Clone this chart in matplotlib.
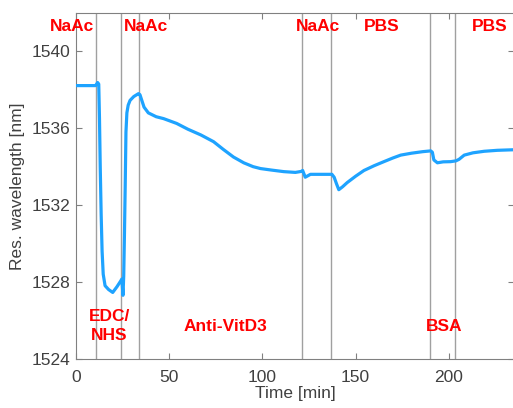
import numpy as np
import matplotlib
matplotlib.use("Agg")
import matplotlib.pyplot as plt

plt.rcParams['font.family'] = ['Liberation Sans', 'DejaVu Sans']

# Sensorgram: time [min], resonance wavelength [nm]
time_min = [0, 5, 10.5, 11.6, 12.2, 12.6, 13.0, 13.5, 14.0, 14.6, 15.6, 17.5, 19.7,
            22.0, 24.0, 24.6, 25.2, 25.6, 26.0, 26.4, 26.8, 27.3, 28.0, 29.0, 31.0,
            33.5, 34.3, 36.5, 38.8, 43.0, 47.0, 54.0, 60.0, 67.0, 73.8, 79.0, 84.5,
            90.0, 95.0, 99.0, 105.0, 111.5, 117.7, 120.8, 121.6, 123.0, 125.8, 131.0,
            137.3, 138.5, 139.8, 141.0, 143.0, 145.5, 150.0, 154.5, 160.0, 165.2,
            170.0, 174.2, 180.0, 186.0, 190.3, 191.2, 192.0, 193.9, 197.0, 201.0,
            203.8, 205.5, 208.3, 213.0, 219.0, 226.0, 235.0]
wavelength_nm = [1538.22, 1538.22, 1538.22, 1538.38, 1538.3, 1536.5, 1534.0, 1531.5,
                 1529.6, 1528.4, 1527.8, 1527.6, 1527.45, 1527.75, 1528.05, 1528.15,
                 1527.3, 1528.3, 1530.5, 1533.0, 1535.8, 1536.8, 1537.2, 1537.45,
                 1537.65, 1537.8, 1537.75, 1537.1, 1536.8, 1536.6, 1536.5, 1536.25,
                 1535.95, 1535.65, 1535.3, 1534.9, 1534.5, 1534.2, 1534.0, 1533.9,
                 1533.82, 1533.74, 1533.7, 1533.75, 1533.8, 1533.45, 1533.6, 1533.6,
                 1533.6, 1533.45, 1533.1, 1532.8, 1532.95, 1533.17, 1533.5, 1533.8,
                 1534.05, 1534.26, 1534.45, 1534.6, 1534.7, 1534.78, 1534.82, 1534.75,
                 1534.35, 1534.2, 1534.25, 1534.26, 1534.3, 1534.38, 1534.6, 1534.72,
                 1534.8, 1534.85, 1534.88]

# Injection switch times [min]
switch_times = [10.7, 24.4, 34.0, 121.1, 136.7, 190.1, 203.5]

# Solution labels (text, x [min])
top_labels = [("NaAc", -2.4), ("NaAc", 37.8), ("NaAc", 129.8), ("PBS", 163.9), ("PBS", 221.8)]
bottom_labels = [("EDC/\nNHS", 17.8), ("Anti-VitD3", 80.0), ("BSA", 197.7)]

fig = plt.figure(figsize=(5.13, 4.08), dpi=100)
ax = fig.add_axes([76 / 513, 1 - 358.7 / 408, 438 / 513, (358.7 - 13) / 408])

for t in switch_times:
    ax.axvline(t, color='#a0a0a0', lw=1.0, zorder=1)

ax.plot(time_min, wavelength_nm, color='#1ea3ff', lw=2.3, zorder=3)

ax.set_xlim(0, 235)
ax.set_ylim(1524, 1542)
ax.set_xticks([0, 50, 100, 150, 200])
ax.set_yticks([1524, 1528, 1532, 1536, 1540])

grey = '#404040'
ax.tick_params(direction='in', length=4, width=0.8, color='#808080',
               top=True, right=True, labelsize=12.5, labelcolor=grey)
ax.tick_params(axis='x', pad=8)
ax.tick_params(axis='y', pad=4)
for sp in ax.spines.values():
    sp.set_color('#808080')
    sp.set_linewidth(0.8)

ax.set_xlabel('Time [min]', fontsize=12.5, color=grey, labelpad=1)
ax.set_ylabel('Res. wavelength [nm]', fontsize=12.5, color=grey, labelpad=5)

for txt, x in top_labels:
    ax.text(x, 1541.3, txt, color='red', fontsize=12.5, fontweight='bold',
            ha='center', va='center', clip_on=False, zorder=4)
for txt, x in bottom_labels:
    ax.text(x, 1525.7, txt, color='red', fontsize=12.5, fontweight='bold',
            ha='center', va='center', linespacing=1.3, zorder=4)

fig.savefig('out.png', dpi=100)
